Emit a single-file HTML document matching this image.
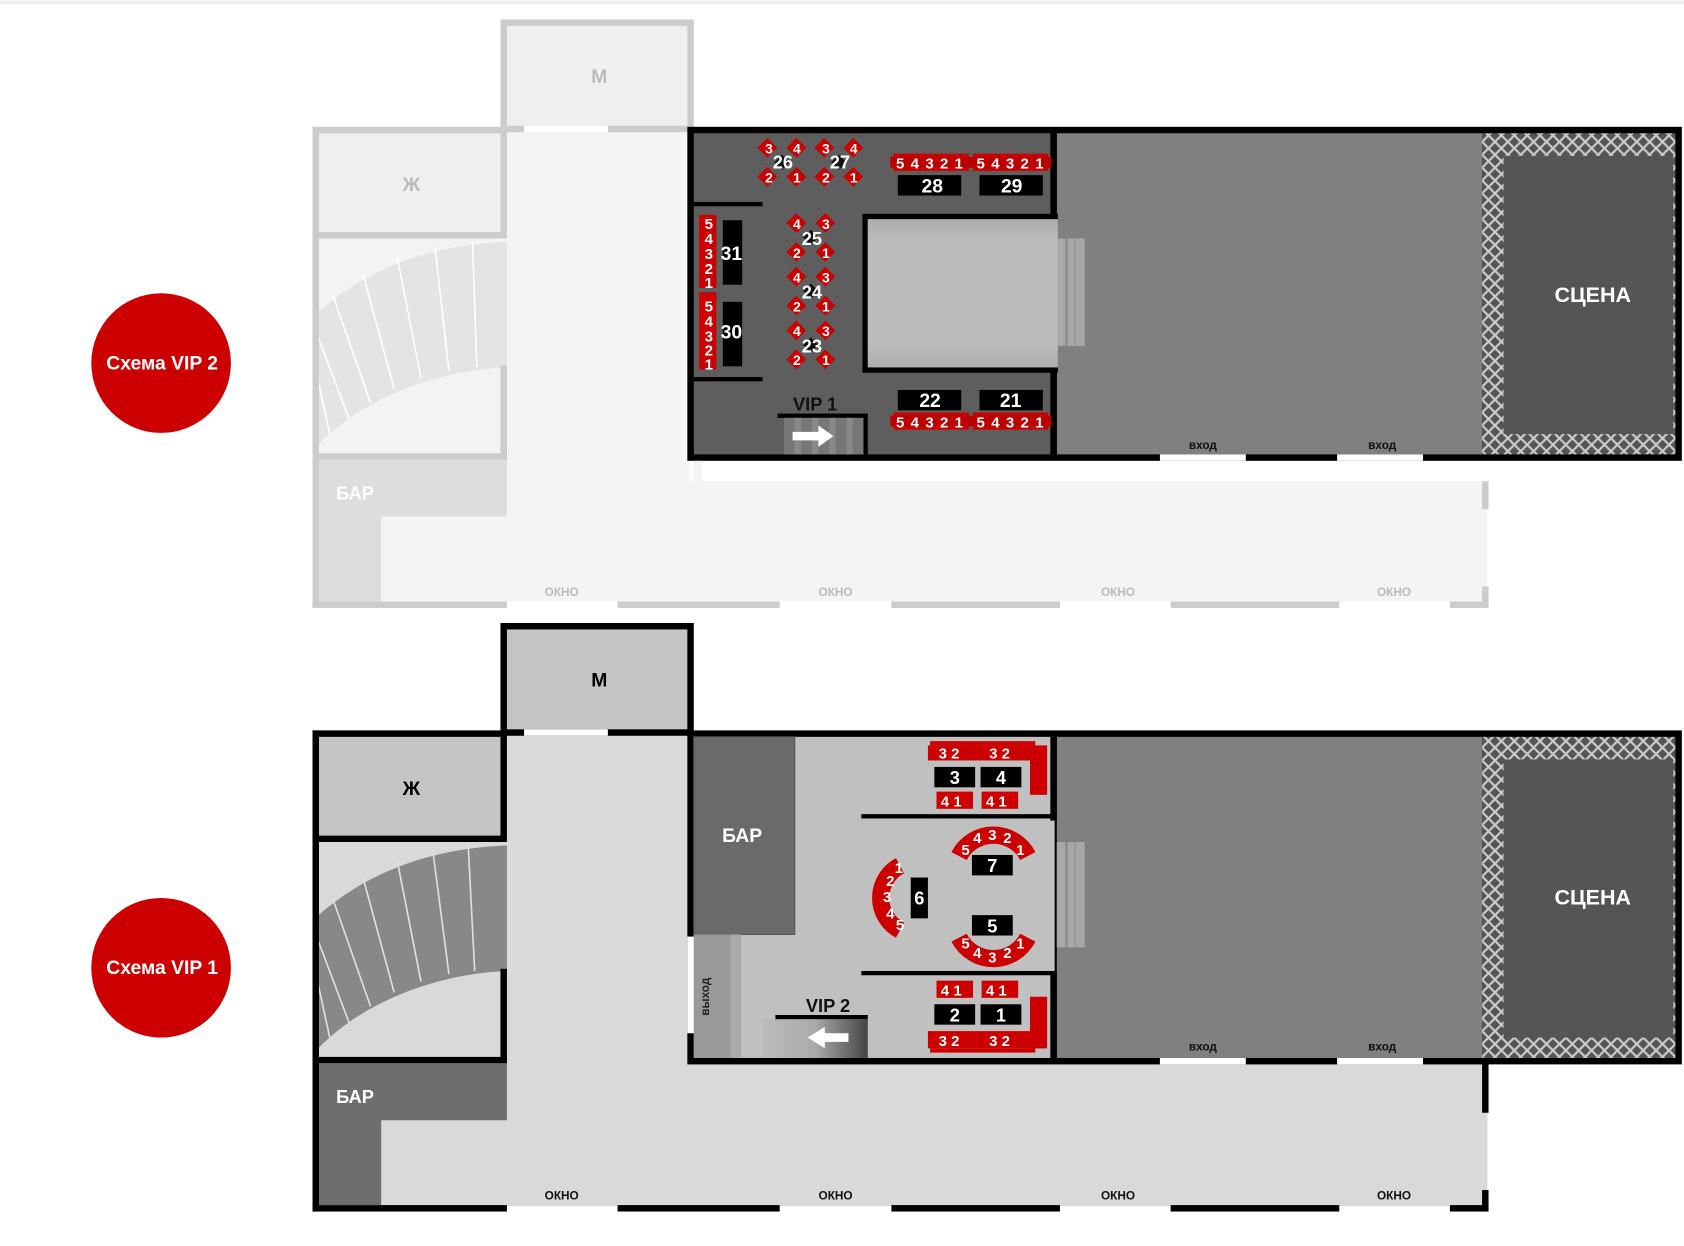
<!DOCTYPE html>
<html><head><meta charset="utf-8"><style>
html,body{margin:0;padding:0;background:#fff;}
svg{display:block;}
text{font-family:"Liberation Sans",sans-serif;font-weight:bold;}
</style></head><body>
<svg width="1684" height="1246" viewBox="0 0 1568 1160" xmlns="http://www.w3.org/2000/svg">
<defs>
<pattern id="lat" width="12" height="12" patternUnits="userSpaceOnUse">
<rect width="12" height="12" fill="#555"/>
<path d="M0 0L12 12M12 0L0 12" stroke="#ccc" stroke-width="2"/>
</pattern>
<linearGradient id="dfl" x1="0" y1="0" x2="0" y2="1"><stop offset="0" stop-color="#999"/><stop offset=".15" stop-color="#bdbdbd"/><stop offset=".85" stop-color="#bdbdbd"/><stop offset="1" stop-color="#999"/></linearGradient>
<linearGradient id="st" x1="0" y1="0" x2="1" y2="0"><stop offset="0" stop-color="#bbb"/><stop offset=".5" stop-color="#aaa"/><stop offset="1" stop-color="#444"/></linearGradient>
<g id="dia">
<rect x="-20" y="-20" width="13" height="13" fill="#c00" transform="rotate(45 -13.5 -13.5)"/>
<rect x="7" y="-20" width="13" height="13" fill="#c00" transform="rotate(45 13.5 -13.5)"/>
<rect x="-20" y="7" width="13" height="13" fill="#c00" transform="rotate(45 -13.5 13.5)"/>
<rect x="7" y="7" width="13" height="13" fill="#c00" transform="rotate(45 13.5 13.5)"/>
<rect x="-5" y="-5" width="10" height="10" fill="#111" transform="rotate(45)"/>
</g>
<g id="row"><rect x="0" y="0" width="70" height="16" fill="#c00"/><rect x="-3" y="3" width="76" height="10" fill="#b00"/></g>
</defs>

<rect x="0" y="0" width="1568" height="4" fill="#eee"/>

<!-- ============ TOP ============ -->
<rect x="472" y="120" width="170" height="330" fill="#f4f4f4"/>
<rect x="355" y="448" width="1030" height="112" fill="#f4f4f4"/>
<rect x="469" y="21" width="174" height="99" fill="#efefef" stroke="#ccc" stroke-width="6"/>
<rect x="488" y="117" width="78" height="6" fill="#fff"/>
<text x="558" y="77" font-size="18" fill="#bbb" text-anchor="middle" font-weight="normal">М</text>
<rect x="294" y="121" width="175" height="98" fill="#efefef" stroke="#ccc" stroke-width="6"/>
<text x="383" y="178" font-size="18" fill="#bbb" text-anchor="middle" font-weight="normal">Ж</text>
<rect x="291" y="222" width="181" height="203" fill="#f3f3f3"/>
<path d="M291 295 C340 250 400 228 472 225 L472 342 C400 345 330 375 291 420 Z" fill="#e4e4e4"/>
<g stroke="#fff" stroke-width="1.5">
<line x1="440" y1="226" x2="444" y2="342"/><line x1="405" y1="230" x2="418" y2="345"/><line x1="370" y1="240" x2="392" y2="352"/><line x1="338" y1="255" x2="367" y2="362"/><line x1="310" y1="275" x2="345" y2="375"/><line x1="291" y1="300" x2="325" y2="390"/><line x1="291" y1="330" x2="307" y2="404"/>
</g>
<rect x="466" y="340" width="6" height="85" fill="#ccc"/>
<rect x="291" y="422" width="181" height="6" fill="#ccc"/>
<path d="M297 428 H472 V481 H355 V560 H297 Z" fill="#ddd"/>
<text x="313" y="465" font-size="17" fill="#fff" font-weight="normal">БАР</text>
<rect x="291" y="118" width="6" height="448" fill="#ccc"/>
<g fill="#ccc"><rect x="291" y="560" width="181" height="6"/><rect x="575" y="560" width="151" height="6"/><rect x="830" y="560" width="157" height="6"/><rect x="1090" y="560" width="157" height="6"/><rect x="1350" y="560" width="36" height="6"/><rect x="1380" y="448" width="6" height="26"/><rect x="1380" y="546" width="6" height="20"/></g>
<g font-size="11" fill="#bbb" text-anchor="middle"><text x="523" y="555">ОКНО</text><text x="778" y="555">ОКНО</text><text x="1041" y="555">ОКНО</text><text x="1298" y="555">ОКНО</text></g>

<rect x="640" y="118" width="926" height="311" fill="#000"/>
<rect x="646" y="124" width="336" height="299" fill="#5e5e5e"/>
<rect x="984" y="124" width="396" height="299" fill="#808080"/>
<rect x="1380" y="124" width="180" height="299" fill="url(#lat)"/>
<rect x="1400" y="145" width="158" height="259" fill="#555"/>
<text x="1483" y="281" font-size="20" fill="#fff" text-anchor="middle" font-weight="normal">СЦЕНА</text>
<rect x="978" y="124" width="6" height="78" fill="#000"/><rect x="978" y="345" width="6" height="78" fill="#000"/>
<rect x="984" y="222" width="26" height="100" fill="#a8a8a8"/><rect x="992" y="222" width="2" height="100" fill="#888"/><rect x="1000" y="222" width="2" height="100" fill="#999"/>
<rect x="803" y="199" width="182" height="148" fill="#000"/>
<rect x="808" y="204" width="177" height="138" fill="url(#dfl)"/>
<rect x="808" y="204" width="177" height="138" fill="#bbb" opacity=".6"/>
<rect x="646" y="188" width="64" height="4" fill="#000"/><rect x="646" y="351" width="64" height="4" fill="#000"/>
<g fill="#fff"><rect x="1080" y="423" width="80" height="6"/><rect x="1245" y="423" width="80" height="6"/><rect x="646" y="429" width="8" height="20" fill="#f4f4f4"/></g>
<g font-size="11" fill="#111" text-anchor="middle" font-weight="normal"><text x="1120" y="418">вход</text><text x="1287" y="418">вход</text></g>
<text x="759" y="382" font-size="17" fill="#111" text-anchor="middle" font-weight="normal">VIP 1</text>
<rect x="724" y="385" width="84" height="4" fill="#000"/>
<rect x="730" y="389" width="74" height="34" fill="#777"/>
<g fill="#888"><rect x="740" y="389" width="6" height="34"/><rect x="756" y="389" width="6" height="34"/><rect x="772" y="389" width="6" height="34"/><rect x="788" y="389" width="6" height="34"/></g>
<rect x="804" y="389" width="4" height="34" fill="#000"/>
<path d="M738 402 H762 V396 L776 406 L762 416 V410 H738 Z" fill="#fff"/>
<g font-size="15" fill="#fff" text-anchor="middle">
<use href="#dia" x="728" y="151"/><text x="716" y="143" font-size="13">3</text><text x="742" y="143" font-size="13">4</text><text x="716" y="170" font-size="13">2</text><text x="742" y="170" font-size="13">1</text><text x="729" y="157" font-size="17">26</text>
<use href="#dia" x="781" y="151"/><text x="769" y="143" font-size="13">3</text><text x="795" y="143" font-size="13">4</text><text x="769" y="170" font-size="13">2</text><text x="795" y="170" font-size="13">1</text><text x="782" y="157" font-size="17">27</text>
<use href="#dia" x="755" y="221"/><text x="742" y="213" font-size="13">4</text><text x="769" y="213" font-size="13">3</text><text x="742" y="240" font-size="13">2</text><text x="769" y="240" font-size="13">1</text><text x="756" y="228" font-size="17">25</text>
<use href="#dia" x="755" y="271"/><text x="742" y="263" font-size="13">4</text><text x="769" y="263" font-size="13">3</text><text x="742" y="290" font-size="13">2</text><text x="769" y="290" font-size="13">1</text><text x="756" y="278" font-size="17">24</text>
<use href="#dia" x="755" y="321"/><text x="742" y="313" font-size="13">4</text><text x="769" y="313" font-size="13">3</text><text x="742" y="340" font-size="13">2</text><text x="769" y="340" font-size="13">1</text><text x="756" y="328" font-size="17">23</text>
</g>
<use href="#row" x="832" y="143"/><use href="#row" x="906" y="143"/>
<use href="#row" x="832" y="384"/><use href="#row" x="906" y="384"/>
<g fill="#000"><rect x="836" y="163" width="59" height="19"/><rect x="912" y="163" width="59" height="19"/><rect x="836" y="363" width="59" height="19"/><rect x="912" y="363" width="59" height="19"/></g>
<g fill="#fff" font-size="14" text-anchor="middle" letter-spacing="1"><text x="866" y="157">5 4 3 2 1</text><text x="941" y="157">5 4 3 2 1</text><text x="866" y="398">5 4 3 2 1</text><text x="941" y="398">5 4 3 2 1</text></g>
<g fill="#fff" font-size="18" text-anchor="middle"><text x="868" y="179">28</text><text x="942" y="179">29</text><text x="866" y="379">22</text><text x="941" y="379">21</text></g>
<rect x="651" y="200" width="16" height="68" fill="#c00"/><rect x="651" y="272" width="16" height="72" fill="#c00"/>
<rect x="673" y="205" width="18" height="60" fill="#000"/><rect x="673" y="281" width="18" height="60" fill="#000"/>
<g fill="#fff" font-size="14" text-anchor="middle"><text x="660" y="213">5</text><text x="660" y="227">4</text><text x="660" y="241">3</text><text x="660" y="255">2</text><text x="660" y="268">1</text><text x="660" y="290">5</text><text x="660" y="304">4</text><text x="660" y="318">3</text><text x="660" y="331">2</text><text x="660" y="344">1</text></g>
<g fill="#fff" font-size="18"><text x="671" y="242">31</text><text x="671" y="315">30</text></g>

<circle cx="150" cy="338" r="65" fill="#c00"/>
<text x="151" y="344" font-size="18" fill="#fff" text-anchor="middle">Схема VIP 2</text>

<!-- ============ BOTTOM ============ -->
<rect x="472" y="682" width="170" height="330" fill="#d9d9db"/>
<rect x="355" y="988" width="1030" height="135" fill="#d9d9db"/>
<rect x="469" y="583" width="174" height="99" fill="#c4c4c4" stroke="#000" stroke-width="6"/>
<rect x="488" y="679" width="78" height="6" fill="#fff"/>
<text x="558" y="639" font-size="18" fill="#000" text-anchor="middle" font-weight="normal">М</text>
<rect x="294" y="683" width="175" height="98" fill="#c4c4c4" stroke="#000" stroke-width="6"/>
<text x="383" y="740" font-size="18" fill="#000" text-anchor="middle" font-weight="normal">Ж</text>
<rect x="291" y="784" width="181" height="203" fill="#d9d9db"/>
<path d="M291 857 C340 812 400 790 472 787 L472 904 C400 907 330 937 291 982 Z" fill="#888"/>
<g stroke="#e0e0e0" stroke-width="1.5">
<line x1="436" y1="788" x2="442" y2="904"/><line x1="403" y1="792" x2="418" y2="907"/><line x1="370" y1="802" x2="392" y2="914"/><line x1="338" y1="817" x2="367" y2="924"/><line x1="310" y1="837" x2="345" y2="937"/><line x1="291" y1="862" x2="325" y2="952"/><line x1="291" y1="892" x2="307" y2="966"/>
</g>
<rect x="466" y="902" width="6" height="85" fill="#000"/>
<rect x="291" y="984" width="181" height="6" fill="#000"/>
<path d="M297 990 H472 V1043 H355 V1122 H297 Z" fill="#6e6e6e"/>
<text x="313" y="1027" font-size="17" fill="#fff" font-weight="normal">БАР</text>
<rect x="291" y="680" width="6" height="448" fill="#000"/>
<g fill="#000"><rect x="291" y="1122" width="181" height="6"/><rect x="575" y="1122" width="151" height="6"/><rect x="830" y="1122" width="157" height="6"/><rect x="1090" y="1122" width="157" height="6"/><rect x="1350" y="1122" width="36" height="6"/><rect x="1380" y="988" width="6" height="48"/><rect x="1380" y="1108" width="6" height="20"/></g>
<g font-size="11" fill="#111" text-anchor="middle"><text x="523" y="1117">ОКНО</text><text x="778" y="1117">ОКНО</text><text x="1041" y="1117">ОКНО</text><text x="1298" y="1117">ОКНО</text></g>

<rect x="640" y="680" width="926" height="311" fill="#000"/>
<rect x="646" y="686" width="336" height="299" fill="#c0c0c0"/>
<rect x="984" y="686" width="396" height="299" fill="#808080"/>
<rect x="1380" y="686" width="180" height="299" fill="url(#lat)"/>
<rect x="1400" y="707" width="158" height="259" fill="#555"/>
<text x="1483" y="842" font-size="20" fill="#fff" text-anchor="middle" font-weight="normal">СЦЕНА</text>
<rect x="978" y="686" width="6" height="78" fill="#000"/><rect x="978" y="905" width="6" height="80" fill="#000"/>
<rect x="984" y="784" width="26" height="98" fill="#a8a8a8"/><rect x="992" y="784" width="2" height="98" fill="#888"/><rect x="1000" y="784" width="2" height="98" fill="#999"/>
<rect x="802" y="758" width="180" height="4" fill="#000"/><rect x="802" y="904" width="180" height="4" fill="#000"/>
<rect x="646" y="686" width="94" height="184" fill="#6a6a6a" stroke="#555" stroke-width="1"/>
<text x="691" y="784" font-size="18" fill="#fff" text-anchor="middle" font-weight="normal">БАР</text>
<rect x="646" y="870" width="44" height="115" fill="#999"/><rect x="680" y="870" width="10" height="115" fill="#aaa"/>
<text transform="translate(660 928) rotate(-90)" font-size="11" fill="#222" text-anchor="middle">выход</text>
<rect x="640" y="872" width="6" height="90" fill="#fff"/>
<g fill="#fff"><rect x="1080" y="985" width="80" height="6"/><rect x="1245" y="985" width="80" height="6"/></g>
<g font-size="11" fill="#111" text-anchor="middle" font-weight="normal"><text x="1120" y="978">вход</text><text x="1287" y="978">вход</text></g>
<text x="771" y="942" font-size="17" fill="#111" text-anchor="middle" font-weight="normal">VIP 2</text>
<rect x="722" y="945" width="86" height="4" fill="#000"/>
<rect x="710" y="949" width="98" height="36" fill="url(#st)"/>
<path d="M790 962 H768 V956 L752 966 L768 976 V970 H790 Z" fill="#fff"/>
<g fill="#c00"><rect x="866" y="690" width="98" height="4"/><rect x="864" y="694" width="110" height="14"/><rect x="959" y="694" width="16" height="46"/>
<rect x="872" y="737" width="34" height="16"/><rect x="914" y="737" width="34" height="16"/>
<rect x="872" y="913" width="34" height="16"/><rect x="914" y="913" width="34" height="16"/>
<rect x="866" y="976" width="98" height="4"/><rect x="864" y="960" width="110" height="16"/><rect x="959" y="928" width="16" height="48"/></g>
<g fill="#000"><rect x="870" y="714" width="38" height="19"/><rect x="913" y="714" width="38" height="19"/><rect x="870" y="935" width="38" height="19"/><rect x="913" y="935" width="38" height="19"/></g>
<g fill="#fff" font-size="14"><text x="874" y="706">3 2</text><text x="921" y="706">3 2</text><text x="876" y="751">4 1</text><text x="918" y="751">4 1</text><text x="876" y="927">4 1</text><text x="918" y="927">4 1</text><text x="874" y="974">3 2</text><text x="921" y="974">3 2</text></g>
<g fill="#fff" font-size="17" text-anchor="middle"><text x="889" y="730">3</text><text x="932" y="730">4</text><text x="889" y="951">2</text><text x="932" y="951">1</text></g>
<rect x="905" y="796" width="38" height="19" fill="#000"/><rect x="905" y="852" width="38" height="19" fill="#000"/><rect x="848" y="817" width="16" height="38" fill="#000"/>
<g fill="none" stroke="#c00" stroke-width="16">
<path d="M893 797 A36 36 0 0 1 957 797"/>
<path d="M893 873 A36 36 0 0 0 957 873"/>
<path d="M838 806 A34 34 0 0 0 838 866"/>
</g>
<g fill="#fff" font-size="14" text-anchor="middle">
<text x="899" y="796">5</text><text x="910" y="785">4</text><text x="924" y="782">3</text><text x="938" y="785">2</text><text x="950" y="796">1</text>
<text x="899" y="883">5</text><text x="910" y="892">4</text><text x="924" y="896">3</text><text x="938" y="892">2</text><text x="950" y="883">1</text>
<text x="837" y="813">1</text><text x="829" y="825">2</text><text x="826" y="840">3</text><text x="829" y="855">4</text><text x="838" y="866">5</text>
</g>
<g fill="#fff" font-size="17" text-anchor="middle"><text x="924" y="812">7</text><text x="924" y="868">5</text><text x="856" y="842">6</text></g>

<circle cx="150" cy="901" r="65" fill="#c00"/>
<text x="151" y="907" font-size="18" fill="#fff" text-anchor="middle">Схема VIP 1</text>
</svg>
</body></html>
